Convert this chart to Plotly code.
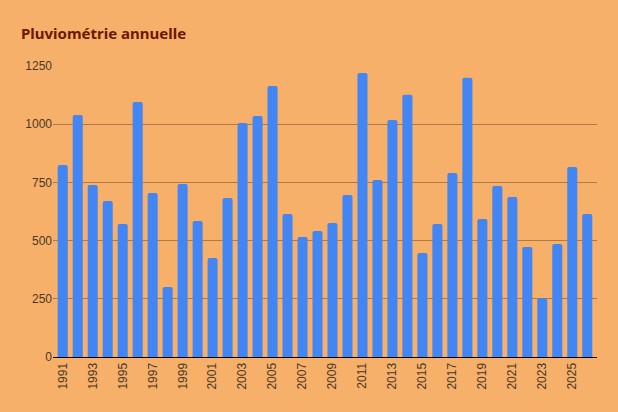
import plotly.graph_objects as go

annees = list(range(1991, 2027))
pluie_mm = [825, 1040, 739, 670, 571, 1095, 705, 301, 743, 584,
            425, 683, 1005, 1035, 1164, 614, 516, 541, 576, 696,
            1220, 760, 1018, 1126, 447, 571, 790, 1199, 593, 735,
            687, 473, 253, 485, 816, 614]
ticks_y = [0, 250, 500, 750, 1000, 1250]

fond = "#f6b06a"

fig = go.Figure(
    go.Bar(
        x=annees,
        y=pluie_mm,
        marker=dict(color="#4285f4", line=dict(width=0), cornerradius=2),
    )
)

fig.update_layout(
    width=618,
    height=412,
    paper_bgcolor=fond,
    plot_bgcolor=fond,
    bargap=0.33,
    showlegend=False,
    margin=dict(l=53, r=21, t=66, b=55),
    title=dict(
        text="<b>Pluviométrie annuelle</b>",
        x=21 / 618,
        xanchor="left",
        y=1 - 34 / 412,
        yanchor="middle",
        font=dict(family="Comic Sans MS, Noto Sans", size=15, color="#6b1800"),
    ),
    font=dict(family="Liberation Sans, Arial", size=12, color="#4a3826"),
)

fig.update_xaxes(
    tickmode="linear",
    tick0=1991,
    dtick=2,
    tickangle=-90,
    range=[1990.35, 2026.65],
    showgrid=False,
    showline=True,
    linecolor="#000000",
    linewidth=1.2,
    ticks="",
)

fig.update_yaxes(
    range=[0, 1250],
    tickvals=ticks_y,
    showgrid=True,
    gridcolor="#b07a45",
    gridwidth=1,
    zeroline=False,
    ticks="",
)

# la page garde sinon la marge par défaut du navigateur
fig.write_html(
    "out.html",
    config={"displayModeBar": False},
    post_script="document.body.style.margin='0';document.body.style.background='%s';" % fond,
)
